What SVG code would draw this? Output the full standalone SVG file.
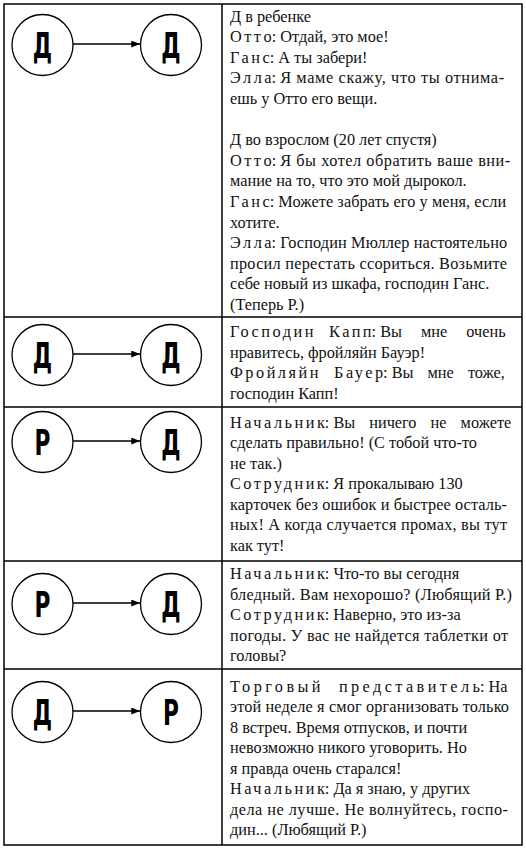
<svg xmlns="http://www.w3.org/2000/svg" width="526" height="848" viewBox="0 0 526 848">
<defs>
<style>
.grid{fill:none;stroke:#000;stroke-width:1.5}
.c{fill:#fff;stroke:#000;stroke-width:1.3}
.lt{font-family:"DejaVu Sans","Liberation Sans",sans-serif;font-weight:bold;font-size:35px;text-anchor:middle;fill:#000}
.t{font-family:"Liberation Serif","DejaVu Serif",serif;font-size:16.3px;fill:#111}
.s{letter-spacing:2.5px}
.s2{letter-spacing:3.4px}
.ar{stroke:#000;stroke-width:1.5;fill:none;marker-end:url(#ah)}
</style>
<marker id="ah" viewBox="0 0 10 8" refX="10" refY="4" markerWidth="9" markerHeight="7" markerUnits="userSpaceOnUse" orient="auto">
<path d="M0,0 L10,4 L0,8 z" fill="#000"/>
</marker>
</defs>
<rect width="526" height="848" fill="#fff"/>
<g id="table">
<rect class="grid" x="4" y="4" width="518" height="841"/>
<line class="grid" x1="222" y1="4" x2="222" y2="845"/>
<line class="grid" x1="4" y1="317" x2="522" y2="317"/>
<line class="grid" x1="4" y1="407" x2="522" y2="407"/>
<line class="grid" x1="4" y1="561" x2="522" y2="561"/>
<line class="grid" x1="4" y1="669" x2="522" y2="669"/>
</g>
<g id="connectors">
<line class="ar" x1="73" y1="44" x2="140" y2="44"/>
<line class="ar" x1="73" y1="354" x2="140" y2="354"/>
<line class="ar" x1="73" y1="441" x2="140" y2="441"/>
<line class="ar" x1="73" y1="603" x2="140" y2="603"/>
<line class="ar" x1="73" y1="711" x2="140" y2="711"/>
</g>
<g id="n1a"><circle class="c" cx="42.5" cy="45" r="30.5"/><text class="lt" transform="translate(42.5,57.5) scale(0.62,1)">Д</text></g>
<g id="n1b"><circle class="c" cx="171" cy="45" r="30.5"/><text class="lt" transform="translate(171,57.5) scale(0.62,1)">Д</text></g>
<g id="n2a"><circle class="c" cx="42.5" cy="355" r="30.5"/><text class="lt" transform="translate(42.5,367.5) scale(0.62,1)">Д</text></g>
<g id="n2b"><circle class="c" cx="171" cy="355" r="30.5"/><text class="lt" transform="translate(171,367.5) scale(0.62,1)">Д</text></g>
<g id="n3a"><circle class="c" cx="42.5" cy="442" r="30.5"/><text class="lt" transform="translate(42.5,454.5) scale(0.62,1)">Р</text></g>
<g id="n3b"><circle class="c" cx="171" cy="442" r="30.5"/><text class="lt" transform="translate(171,454.5) scale(0.62,1)">Д</text></g>
<g id="n4a"><circle class="c" cx="42.5" cy="604" r="30.5"/><text class="lt" transform="translate(42.5,616.5) scale(0.62,1)">Р</text></g>
<g id="n4b"><circle class="c" cx="171" cy="604" r="30.5"/><text class="lt" transform="translate(171,616.5) scale(0.62,1)">Д</text></g>
<g id="n5a"><circle class="c" cx="42.5" cy="712" r="30.5"/><text class="lt" transform="translate(42.5,724.5) scale(0.62,1)">Д</text></g>
<g id="n5b"><circle class="c" cx="171" cy="712" r="30.5"/><text class="lt" transform="translate(171,724.5) scale(0.62,1)">Р</text></g>
<g id="text1" class="t">
<text x="230" y="21.5">Д в ребенке</text>
<text x="230" y="42.1"><tspan class="s">Отт</tspan>о: Отдай, это мое!</text>
<text x="230" y="62.7"><tspan class="s">Ган</tspan>с: А ты забери!</text>
<text x="230" y="83.3"><tspan class="s">Элл</tspan>а: <tspan textLength="224" lengthAdjust="spacing">Я маме скажу, что ты отнима-</tspan></text>
<text x="230" y="103.9">ешь у Отто его вещи.</text>
<text x="230" y="145.1">Д во взрослом (20 лет спустя)</text>
<text x="230" y="165.7"><tspan class="s">Отт</tspan>о: <tspan textLength="230" lengthAdjust="spacing">Я бы хотел обратить ваше вни-</tspan></text>
<text x="230" y="186.3">мание на то, что это мой дырокол.</text>
<text x="230" y="206.9"><tspan class="s">Ган</tspan>с: <tspan textLength="228" lengthAdjust="spacing">Можете забрать его у меня, если</tspan></text>
<text x="230" y="227.5">хотите.</text>
<text x="230" y="248.1"><tspan class="s">Элл</tspan>а: <tspan textLength="227" lengthAdjust="spacing">Господин Мюллер настоятельно</tspan></text>
<text x="230" y="268.7" textLength="277" lengthAdjust="spacing">просил перестать ссориться. Возьмите</text>
<text x="230" y="289.3">себе новый из шкафа, господин Ганс.</text>
<text x="230" y="309.9">(Теперь Р.)</text>
</g>
<g id="text2" class="t">
<text x="230" y="337"><tspan class="s">Господин &#160;Кап</tspan>п: <tspan word-spacing="15">Вы мне очень</tspan></text>
<text x="230" y="357.5">нравитесь, фройляйн Бауэр!</text>
<text x="230" y="378"><tspan class="s">Фройляйн &#160;Бауе</tspan>р: <tspan word-spacing="10">Вы мне тоже,</tspan></text>
<text x="230" y="398.5">господин Капп!</text>
</g>
<g id="text3" class="t">
<text x="230" y="427.5"><tspan class="s">Начальни</tspan>к: <tspan word-spacing="10">Вы ничего не можете</tspan></text>
<text x="230" y="448">сделать правильно! (С тобой что-то</text>
<text x="230" y="468.5">не так.)</text>
<text x="230" y="489"><tspan class="s">Сотрудни</tspan>к: Я прокалываю 130</text>
<text x="230" y="509.5" textLength="277" lengthAdjust="spacing">карточек без ошибок и быстрее осталь-</text>
<text x="230" y="530" textLength="277" lengthAdjust="spacing">ных! А когда случается промах, вы тут</text>
<text x="230" y="550.5">как тут!</text>
</g>
<g id="text4" class="t">
<text x="230" y="579"><tspan class="s">Начальни</tspan>к: Что-то вы сегодня</text>
<text x="230" y="599.5" textLength="282" lengthAdjust="spacing">бледный. Вам нехорошо? (Любящий Р.)</text>
<text x="230" y="620"><tspan class="s">Сотрудни</tspan>к: Наверно, это из-за</text>
<text x="230" y="640.5" textLength="278" lengthAdjust="spacing">погоды. У вас не найдется таблетки от</text>
<text x="230" y="661">головы?</text>
</g>
<g id="text5" class="t">
<text x="230" y="691.5"><tspan class="s2">Торговый &#160;представител</tspan>ь: На</text>
<text x="230" y="712" textLength="279" lengthAdjust="spacing">этой неделе я смог организовать только</text>
<text x="230" y="732.5">8 встреч. Время отпусков, и почти</text>
<text x="230" y="753">невозможно никого уговорить. Но</text>
<text x="230" y="773.5">я правда очень старался!</text>
<text x="230" y="794"><tspan class="s">Начальни</tspan>к: Да я знаю, у других</text>
<text x="230" y="814.5" textLength="278" lengthAdjust="spacing">дела не лучше. Не волнуйтесь, госпо-</text>
<text x="230" y="835">дин... (Любящий Р.)</text>
</g>
</svg>
